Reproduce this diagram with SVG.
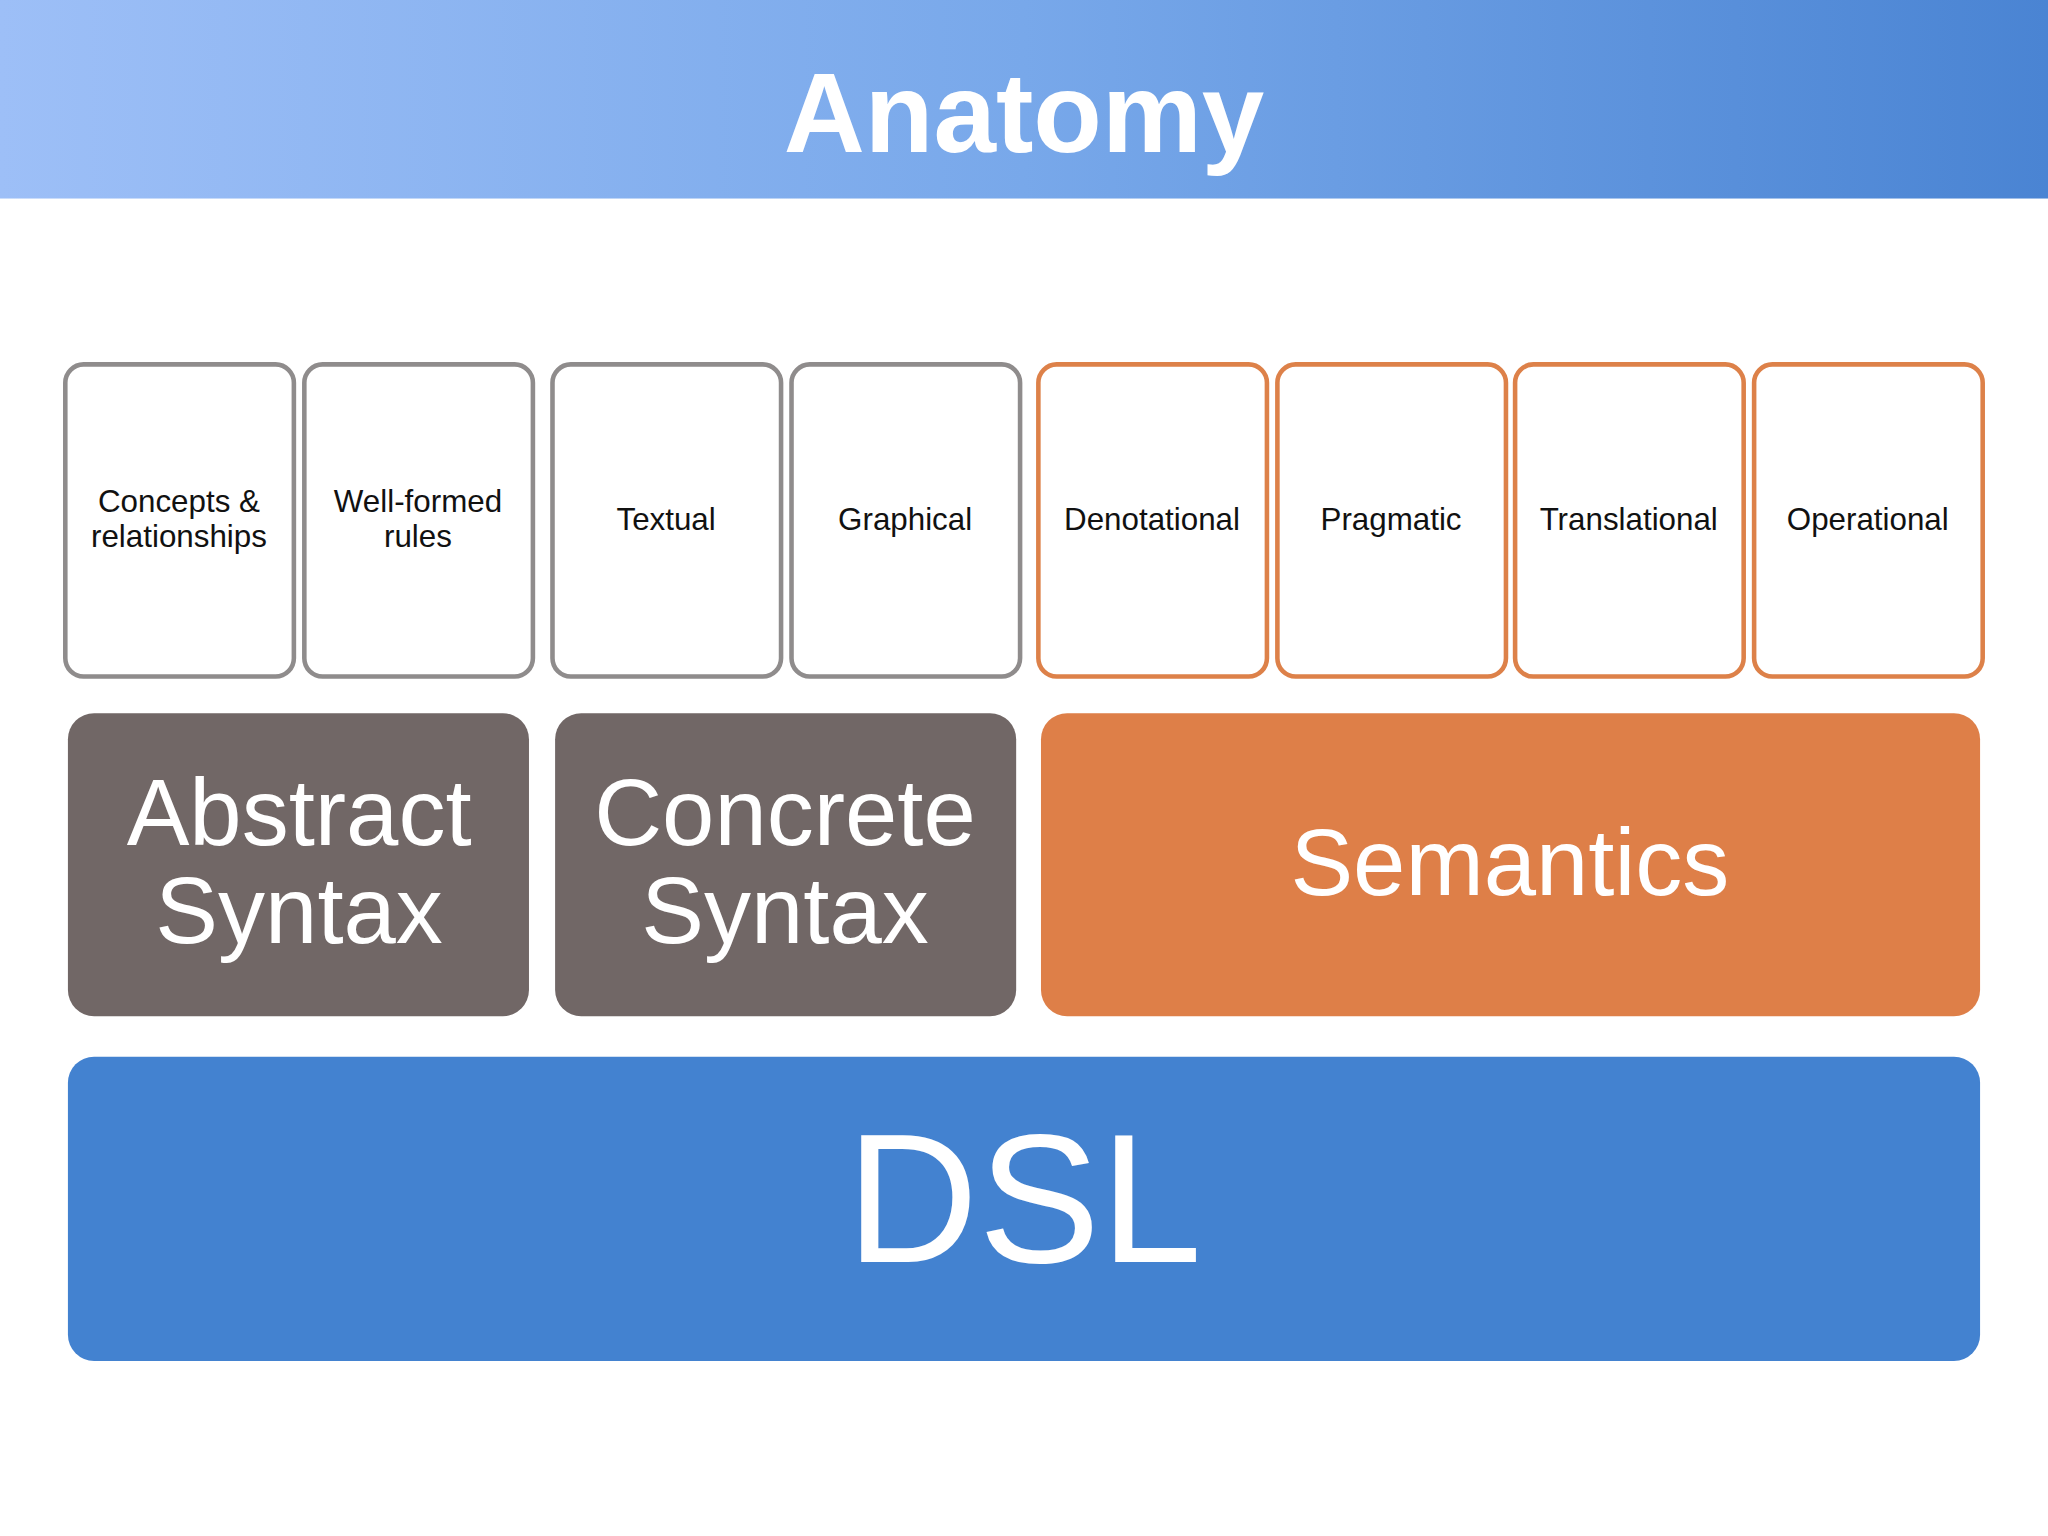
<svg xmlns="http://www.w3.org/2000/svg" width="2048" height="1536" viewBox="0 0 2048 1536">
<defs>
<linearGradient id="hg" x1="0" y1="0" x2="1" y2="0">
<stop offset="0" stop-color="#9dbff7"/><stop offset="0.5" stop-color="#78a8ea"/><stop offset="1" stop-color="#4a84d3"/>
</linearGradient>
<style>
text{font-family:"Liberation Sans",Arial,sans-serif;text-anchor:middle}
.g{fill:#fff;stroke:#8f8c8c;stroke-width:3.5}
.o{fill:#fff;stroke:#dd8149;stroke-width:3.5}
.s{font-size:24px;fill:#111}
.b{font-size:72px;fill:#fff}
</style>
</defs>
<rect width="2048" height="1536" fill="#fff"/>
<g transform="scale(1.30612)">
<g id="header"><rect x="0" y="0" width="1568" height="152" fill="url(#hg)"/>
<text x="784" y="116" style="font-size:86px;font-weight:bold;fill:#fff">Anatomy</text></g>
<g id="n1"><rect class="g" x="50" y="279" width="175" height="239" rx="14"/><text class="s" x="137" y="392">Concepts &amp;</text><text class="s" x="137" y="419">relationships</text></g>
<g id="n2"><rect class="g" x="233" y="279" width="175" height="239" rx="14"/><text class="s" x="320" y="392">Well-formed</text><text class="s" x="320" y="419">rules</text></g>
<g id="n3"><rect class="g" x="423" y="279" width="175" height="239" rx="14"/><text class="s" x="510" y="406">Textual</text></g>
<g id="n4"><rect class="g" x="606" y="279" width="175" height="239" rx="14"/><text class="s" x="693" y="406">Graphical</text></g>
<g id="n5"><rect class="o" x="795" y="279" width="175" height="239" rx="14"/><text class="s" x="882" y="406">Denotational</text></g>
<g id="n6"><rect class="o" x="978" y="279" width="175" height="239" rx="14"/><text class="s" x="1065" y="406">Pragmatic</text></g>
<g id="n7"><rect class="o" x="1160" y="279" width="175" height="239" rx="14"/><text class="s" x="1247" y="406">Translational</text></g>
<g id="n8"><rect class="o" x="1343" y="279" width="175" height="239" rx="14"/><text class="s" x="1430" y="406">Operational</text></g>
<g id="abstract"><rect x="52" y="546" width="353" height="232" rx="20" fill="#716766"/><text class="b" x="229" y="647">Abstract</text><text class="b" x="229" y="722">Syntax</text></g>
<g id="concrete"><rect x="425" y="546" width="353" height="232" rx="20" fill="#716766"/><text class="b" x="601" y="647">Concrete</text><text class="b" x="601" y="722">Syntax</text></g>
<g id="semantics"><rect x="797" y="546" width="719" height="232" rx="20" fill="#de7f48"/><text class="b" x="1156" y="685">Semantics</text></g>
<g id="dsl"><rect x="52" y="809" width="1464" height="233" rx="20" fill="#4382d0"/><text x="784" y="966" style="font-size:140px;fill:#fff">DSL</text></g>
<g id="connectors"/>
</g>
</svg>
